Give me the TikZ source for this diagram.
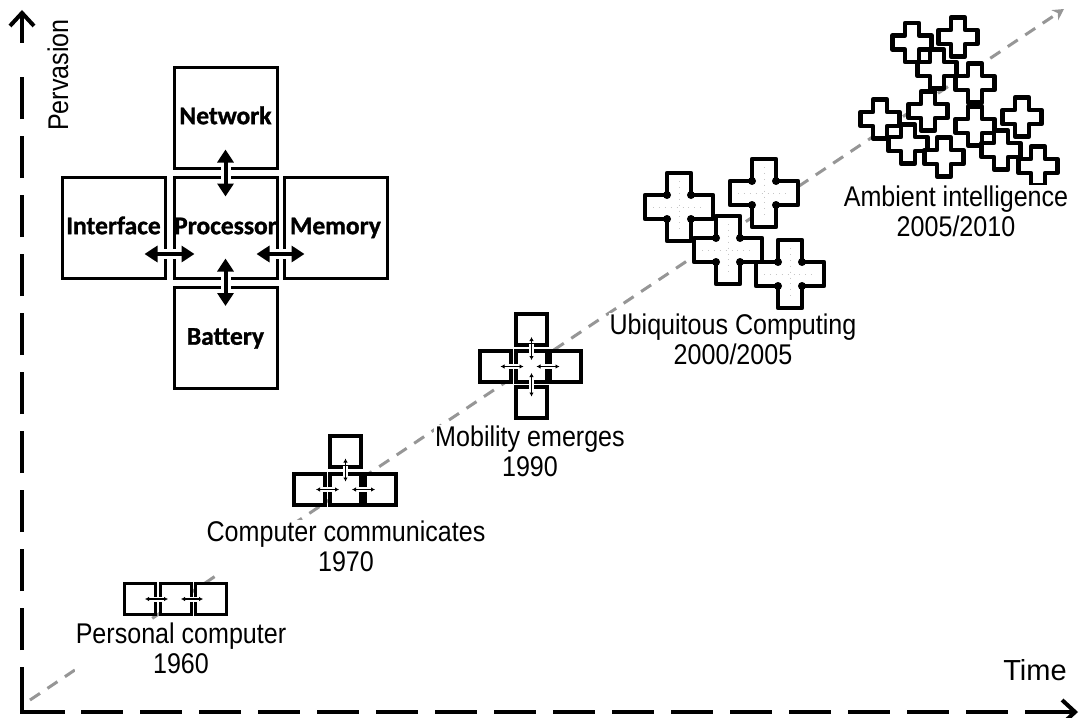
\documentclass[tikz,border=0pt]{standalone}
\usepackage{fontspec}
\setmainfont{Liberation Sans}
\newfontfamily\labfont[FakeStretch=0.88]{Liberation Sans}
\newfontfamily\boxfont[FakeBold=1.2]{Carlito Bold}
\usetikzlibrary{arrows.meta}
\definecolor{trendgray}{RGB}{150,150,150}
\tikzset{
  axisl/.style={line width=4pt, line cap=butt},
  axtip/.style={-{Straight Barb[length=13pt,width=24pt,line width=4pt]}},
  bigbox/.style={draw, line width=3pt, minimum width=103pt, minimum height=101pt, inner sep=0pt,
    text height=18pt, text depth=4.6pt, font=\boxfont\fontsize{25.5}{25.5}\selectfont},
  bigarrow/.style={line width=4pt, {Triangle[length=13pt,width=16pt]}-{Triangle[length=13pt,width=16pt]}},
  halo/.style={white, line width=10pt},
  icbox/.style={draw, fill=white, line width=3.2pt},
  icarrow/.style={line width=1.4pt, {Latex[length=4pt,width=4.5pt]}-{Latex[length=4pt,width=4.5pt]}},
  ichalo/.style={white, line width=5pt},
  lab/.style={font=\labfont\fontsize{28.5}{29.5}\selectfont, align=center, fill=white, inner sep=1pt},
  trend/.style={trendgray, line width=3pt, dash pattern=on 12pt off 9pt, -{Stealth[length=11pt,width=12pt]}},
  icb/.pic={\draw[icbox] (-15.5,-15.5) rectangle (15.5,15.5);},
  plusU/.pic={
    \draw[line width=4.5pt, fill=white, line join=round] (-12,-34) -- (12,-34) -- (12,-12) -- (34,-12) -- (34,12) -- (12,12) -- (12,34) -- (-12,34) -- (-12,12) -- (-34,12) -- (-34,-12) -- (-12,-12) -- cycle;
    \fill (12,12) circle[radius=4pt] (-12,12) circle[radius=4pt] (12,-12) circle[radius=4pt] (-12,-12) circle[radius=4pt];
    \draw[gray!45, line width=0.9pt, dash pattern=on 0.9pt off 5pt] (-26,0) -- (26,0) (0,-26) -- (0,26);
  },
  plusA/.pic={
    \draw[line width=4.5pt, fill=white, line join=round] (-7,-19.5) -- (7,-19.5) -- (7,-7) -- (19.5,-7) -- (19.5,7) -- (7,7) -- (7,19.5) -- (-7,19.5) -- (-7,7) -- (-19.5,7) -- (-19.5,-7) -- (-7,-7) -- cycle;
  },
}
\begin{document}
\begin{tikzpicture}[x=1pt,y=-1pt]
\useasboundingbox (0,0) rectangle (1091,717);

% trend line
\coordinate (dstart) at (30,700);
\coordinate (dend) at (1064,9);
\draw[trend] (dstart) -- (dend);

% axes
\coordinate (corner) at (22,712);
\coordinate (ytop) at (22,10);
\coordinate (xend) at (1078,712);
\draw[axisl] (22,667) -- (corner) -- (65,712);
\draw[axisl, dash pattern=on 42pt off 17pt] (22,650) -- (22,77);
\draw[axisl, axtip] (22,43) -- (ytop);
\draw[axisl, dash pattern=on 42pt off 17pt] (81,712) -- (1008,712);
\draw[axisl, axtip] (1025,712) -- (xend);

\node (perv) [font=\labfont\fontsize{28.5}{29}\selectfont, rotate=90, inner sep=0pt] at (58,75) {Pervasion};
\node (time) [font=\fontsize{29}{30}\selectfont, inner sep=0pt] at (1035,670) {Time};

% big cross
\node[bigbox] (net)  at (225.5,117.5) {\makebox[0pt]{Network}};
\node[bigbox] (intf) at (113.5,227.5) {\makebox[0pt]{Interface}};
\node[bigbox] (proc) at (225.5,227.5) {\makebox[0pt]{Processor}};
\node[bigbox] (mem)  at (335.5,227.5) {\makebox[0pt]{Memory}};
\node[bigbox] (bat)  at (225.5,338) {\makebox[0pt]{Battery}};
\draw[halo] ([yshift=8pt]net.south) -- ([yshift=-8pt]proc.north);
\draw[halo] ([yshift=-8pt]bat.north) -- ([yshift=8pt]proc.south);
\draw[halo] ([xshift=-8pt,yshift=-26.5pt]intf.east) -- ([xshift=8pt,yshift=-26.5pt]proc.west);
\draw[halo] ([xshift=-8pt,yshift=-26.5pt]proc.east) -- ([xshift=8pt,yshift=-26.5pt]mem.west);
\draw[bigarrow] ([yshift=20pt]net.south) -- ([yshift=-21pt]proc.north);
\draw[bigarrow] ([yshift=21pt]proc.south) -- ([yshift=-20pt]bat.north);
\draw[bigarrow] ([xshift=-22pt,yshift=-26.5pt]intf.east) -- ([xshift=22pt,yshift=-26.5pt]proc.west);
\draw[bigarrow] ([xshift=-22pt,yshift=-26.5pt]proc.east) -- ([xshift=22pt,yshift=-26.5pt]mem.west);

% icon 1: personal computer
\begin{scope}[shift={(176,599)}]
  \pic at (-36,0) {icb}; \pic at (0,0) {icb}; \pic at (35,0) {icb};
  \draw[ichalo] (-23,0) -- (-13,0); \draw[ichalo] (13,0) -- (23,0);
  \draw[icarrow] (-31,0) -- (-8,0); \draw[icarrow] (5,0) -- (27,0);
\end{scope}

% icon 2: computer communicates
\begin{scope}[shift={(345.5,489.5)}]
  \pic at (0,-38) {icb};
  \pic at (-36,0) {icb}; \pic at (0,0) {icb}; \pic at (35,0) {icb};
  \draw[ichalo] (-23,0) -- (-13,0); \draw[ichalo] (13,0) -- (23,0);
  \draw[ichalo] (0,-24) -- (0,-14);
  \draw[icarrow] (-29.5,0) -- (-6.5,0); \draw[icarrow] (6.5,0) -- (29.5,0);
  \draw[icarrow] (0,-31) -- (0,-8);
\end{scope}

% icon 3: mobility emerges
\begin{scope}[shift={(531.5,366.5)}]
  \pic at (0,-37) {icb}; \pic at (0,36) {icb};
  \pic at (-36,0) {icb}; \pic at (0,0) {icb}; \pic at (34,0) {icb};
  \draw[ichalo] (-23,0) -- (-13,0); \draw[ichalo] (13,0) -- (23,0);
  \draw[ichalo] (0,-23) -- (0,-13); \draw[ichalo] (0,13) -- (0,23);
  \draw[icarrow] (-31,0) -- (-8,0); \draw[icarrow] (5,0) -- (28,0);
  \draw[icarrow] (0,-29.5) -- (0,-6.5); \draw[icarrow] (0,6.5) -- (0,30);
\end{scope}

% ubiquitous computing
\pic at (679,207) {plusU};
\pic at (764,193) {plusU};
\pic at (728,250) {plusU};
\pic at (790,274) {plusU};

% ambient intelligence
\pic at (958,37) {plusA};
\pic at (912,42.5) {plusA};
\pic at (937,69) {plusA};
\pic at (975,83) {plusA};
\pic at (928,111) {plusA};
\pic at (1022,117) {plusA};
\pic at (880,119) {plusA};
\pic at (975,126) {plusA};
\pic at (908,144) {plusA};
\pic at (1001,150) {plusA};
\pic at (944,157) {plusA};
\pic at (1038,166) {plusA};

% labels
\node[lab] (l1) at (181,648.5) {Personal computer\\1960};
\node[lab] (l2) at (346,546.5) {Computer communicates\\1970};
\node[lab] (l3) at (530,451.5) {Mobility emerges\\1990};
\node[lab] (l4) at (733,339.5) {Ubiquitous Computing\\2000/2005};
\node[lab] (l5) at (956,211.5) {Ambient intelligence\\2005/2010};
\end{tikzpicture}
\end{document}
